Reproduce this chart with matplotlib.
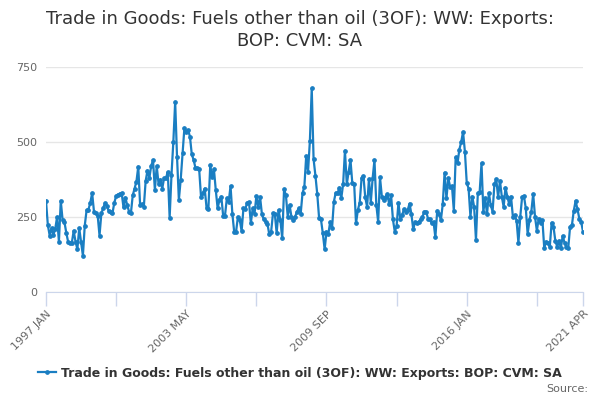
import numpy as np
import matplotlib
matplotlib.use("Agg")
import matplotlib.pyplot as plt

# monthly values, 1997 JAN .. 2021 APR
values = [
    304, 223, 188, 213, 190, 210, 250, 168, 304, 240,
    233, 197, 167, 165, 164, 204, 168, 143, 213, 168,
    121, 221, 273, 275, 297, 330, 268, 262, 255, 188,
    262, 280, 297, 286, 270, 266, 262, 297, 320, 325,
    328, 330, 282, 315, 290, 268, 262, 322, 345, 368,
    418, 290, 293, 283, 370, 405, 380, 420, 440, 340,
    420, 360, 375, 345, 380, 380, 400, 248, 390, 500,
    634, 451, 307, 375, 462, 547, 535, 540, 518, 459,
    440, 414, 414, 409, 318, 329, 345, 281, 277, 423,
    384, 409, 340, 279, 307, 318, 254, 255, 312, 300,
    353, 260, 199, 201, 251, 240, 203, 279, 276, 298,
    300, 229, 279, 260, 320, 284, 317, 260, 242, 234,
    227, 192, 201, 262, 260, 196, 273, 240, 179, 342,
    323, 251, 290, 251, 240, 251, 268, 279, 260, 329,
    351, 453, 401, 504, 679, 443, 388, 326, 246, 242,
    196, 142, 201, 193, 234, 212, 301, 331, 329, 348,
    312, 359, 471, 359, 401, 440, 362, 360, 229, 273,
    298, 379, 387, 316, 284, 376, 298, 379, 440, 290,
    234, 382, 318, 307, 318, 326, 292, 323, 242, 201,
    220, 298, 242, 257, 276, 268, 273, 295, 260, 209,
    234, 229, 234, 242, 250, 268, 268, 245, 242, 229,
    234, 182, 271, 259, 240, 293, 398, 312, 379, 351,
    353, 271, 449, 429, 475, 500, 534, 468, 364, 345,
    251, 318, 284, 173, 329, 334, 429, 268, 312, 260,
    329, 290, 268, 360, 376, 316, 371, 318, 284, 348,
    318, 293, 318, 251, 257, 238, 164, 251, 316, 320,
    279, 193, 240, 268, 327, 251, 204, 245, 229, 240,
    146, 168, 164, 151, 231, 218, 171, 151, 171, 146,
    187, 164, 151, 146, 218, 223, 271, 304, 276, 245,
    234, 201,
]
months = ["JAN", "FEB", "MAR", "APR", "MAY", "JUN",
          "JUL", "AUG", "SEP", "OCT", "NOV", "DEC"]
labels = ["%d %s" % (1997 + i // 12, months[i % 12]) for i in range(len(values))]
x = np.arange(len(values))

title = "Trade in Goods: Fuels other than oil (3OF): WW: Exports:\nBOP: CVM: SA"
series_name = "Trade in Goods: Fuels other than oil (3OF): WW: Exports: BOP: CVM: SA"
blue = "#1a7ec2"

fig = plt.figure(figsize=(6, 4), dpi=100)
ax = fig.add_axes([46 / 600, 108 / 400, 537 / 600, 225 / 400])

ax.plot(x, values, color=blue, lw=1.6, marker="o", ms=2.4, label=series_name)

ax.set_xlim(0, len(values) - 1)
ax.set_ylim(0, 750)
ax.set_yticks([0, 250, 500, 750])
ax.yaxis.grid(True, color="#e6e6e6", lw=1)
ax.set_axisbelow(True)
ax.tick_params(axis="y", length=0, labelsize=8, labelcolor="#666666", pad=6)

major = [0, 76, 152, 228, 291]
minor = [38, 114, 190, 266]
ax.set_xticks(major)
ax.set_xticklabels([labels[i] for i in major], rotation=45, ha="right",
                   rotation_mode="anchor", fontsize=8, color="#666666")
ax.set_xticks(minor, minor=True)
ax.tick_params(axis="x", which="both", length=10, color="#ccd6eb", width=1, pad=2)

for s in ["top", "right", "left"]:
    ax.spines[s].set_visible(False)
ax.spines["bottom"].set_color("#ccd6eb")

fig.text(0.5, 0.975, title, ha="center", va="top", fontsize=13, color="#333333",
         linespacing=1.25)

leg = fig.legend(loc="center", bbox_to_anchor=(0.5, 373 / 400 * -1 + 1), frameon=False,
                 prop={"size": 9, "weight": "bold"}, handlelength=1.4, handletextpad=0.4)
for t in leg.get_texts():
    t.set_color("#333333")
fig.text(588 / 600, 1 - 389 / 400, "Source:", ha="right", va="center", fontsize=8,
         color="#666666")

fig.savefig("out.png", dpi=100)
